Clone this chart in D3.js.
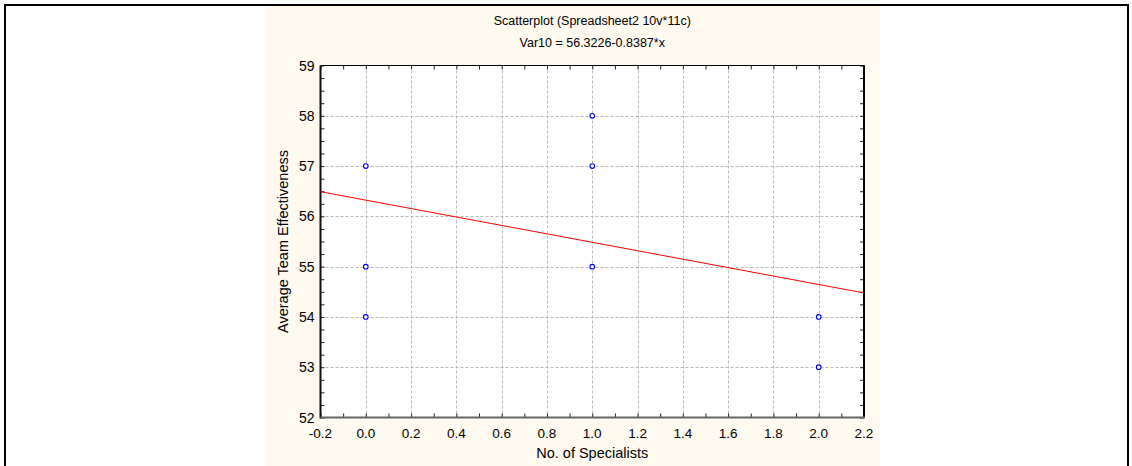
<!DOCTYPE html>
<html><head><meta charset="utf-8">
<script src="https://cdn.jsdelivr.net/npm/d3@7"></script>
<style>html,body{margin:0;padding:0;background:#fff;}svg{display:block;}</style>
</head><body>
<svg id="c" width="1132" height="466"></svg>
<script>
const xTicks = [-0.2,0.0,0.2,0.4,0.6,0.8,1.0,1.2,1.4,1.6,1.8,2.0,2.2];
const yTicks = [52,53,54,55,56,57,58,59];
const ptX = [0,0,0,1,1,1,2,2];
const ptY = [57,55,54,58,57,55,54,53];
const intercept = 56.3226, slope = -0.8387;
const title = "Scatterplot (Spreadsheet2 10v*11c)";
const subtitle = "Var10 = 56.3226-0.8387*x";
const xLabel = "No. of Specialists";
const yLabel = "Average Team Effectiveness";

const svg = d3.select("#c");
const font = "'Liberation Sans', Arial, sans-serif";
svg.append("rect").attr("x",265).attr("y",6).attr("width",615).attr("height",470).attr("fill","#fffaf0");
svg.append("path").attr("d","M5,470 V5 H1128 V470").attr("fill","none").attr("stroke","#000").attr("stroke-width",2);

const L=320.5, R=864, T=65.5, B=417.5;
const x = d3.scaleLinear().domain([-0.2,2.2]).range([L,R]);
const y = d3.scaleLinear().domain([52,59]).range([B,T]);

svg.append("rect").attr("x",L).attr("y",T).attr("width",R-L).attr("height",B-T).attr("fill","#fff");

const g = svg.append("g");
g.selectAll(".gx").data(xTicks.slice(1,-1)).join("line")
 .attr("x1",d=>Math.round(x(d))+0.5).attr("x2",d=>Math.round(x(d))+0.5).attr("y1",T).attr("y2",B)
 .attr("stroke","#b8b8b8").attr("stroke-dasharray","3,2");
g.selectAll(".gy").data(yTicks.slice(1,-1)).join("line")
 .attr("y1",d=>Math.round(y(d))+0.5).attr("y2",d=>Math.round(y(d))+0.5).attr("x1",L).attr("x2",R)
 .attr("stroke","#b8b8b8").attr("stroke-dasharray","3,2");

const xMinor = d3.range(-0.2,2.2001,0.1);
const yMinor = d3.range(52,59.001,0.25);
const axB = d3.axisBottom(x).tickValues(xMinor).tickSize(-4).tickFormat("");
const axT = d3.axisTop(x).tickValues(xMinor).tickSize(-4).tickFormat("");
const axL = d3.axisLeft(y).tickValues(yMinor).tickSize(-4).tickFormat("");
const axR = d3.axisRight(y).tickValues(yMinor).tickSize(-4).tickFormat("");
function st(sel){sel.select(".domain").remove();sel.selectAll("line").attr("stroke","#222");}
svg.append("g").attr("transform",`translate(0,${B})`).call(axB).call(st);
svg.append("g").attr("transform",`translate(0,${T})`).call(axT).call(st);
svg.append("g").attr("transform",`translate(${L},0)`).call(axL).call(st);
svg.append("g").attr("transform",`translate(${R},0)`).call(axR).call(st);

svg.append("line").attr("x1",L).attr("x2",R).attr("y1",T).attr("y2",T).attr("stroke","#000").attr("stroke-width",1);
svg.append("line").attr("x1",R).attr("x2",R).attr("y1",T).attr("y2",B).attr("stroke","#000").attr("stroke-width",2);
svg.append("line").attr("x1",L).attr("x2",L).attr("y1",T).attr("y2",B+1).attr("stroke","#111").attr("stroke-width",2);
svg.append("line").attr("x1",L).attr("x2",R+1).attr("y1",B).attr("y2",B).attr("stroke","#666").attr("stroke-width",2);

svg.selectAll(".xl").data(xTicks).join("text")
 .attr("x",d=>x(d)).attr("y",438).attr("text-anchor","middle")
 .attr("font-family",font).attr("font-size",13.5).attr("fill","#000")
 .text(d=>d3.format(".1f")(d).replace("−","-"));
svg.selectAll(".yl").data(yTicks).join("text")
 .attr("x",L-6).attr("y",d=>y(d)+5).attr("text-anchor","end")
 .attr("font-family",font).attr("font-size",14).attr("fill","#000")
 .text(d=>d);

svg.append("line")
 .attr("x1",x(-0.2)).attr("y1",y(intercept+slope*-0.2))
 .attr("x2",x(2.2)).attr("y2",y(intercept+slope*2.2))
 .attr("stroke","#ff0000").attr("stroke-width",1);

svg.selectAll(".pt").data(ptX.map((d,i)=>[d,ptY[i]])).join("circle")
 .attr("cx",d=>x(d[0])).attr("cy",d=>y(d[1])).attr("r",2.3)
 .attr("fill","#fff").attr("stroke","#0000ff").attr("stroke-width",1.1);

svg.append("text").attr("x",(L+R)/2).attr("y",25).attr("text-anchor","middle")
 .attr("font-family",font).attr("font-size",12.5).text(title);
svg.append("text").attr("x",(L+R)/2).attr("y",47).attr("text-anchor","middle")
 .attr("font-family",font).attr("font-size",12.5).text(subtitle);
svg.append("text").attr("x",(L+R)/2).attr("y",458).attr("text-anchor","middle")
 .attr("font-family",font).attr("font-size",14.5).text(xLabel);
svg.append("text").attr("transform",`translate(288,${(T+B)/2}) rotate(-90)`).attr("text-anchor","middle")
 .attr("font-family",font).attr("font-size",14.5).text(yLabel);
</script>
</body></html>
